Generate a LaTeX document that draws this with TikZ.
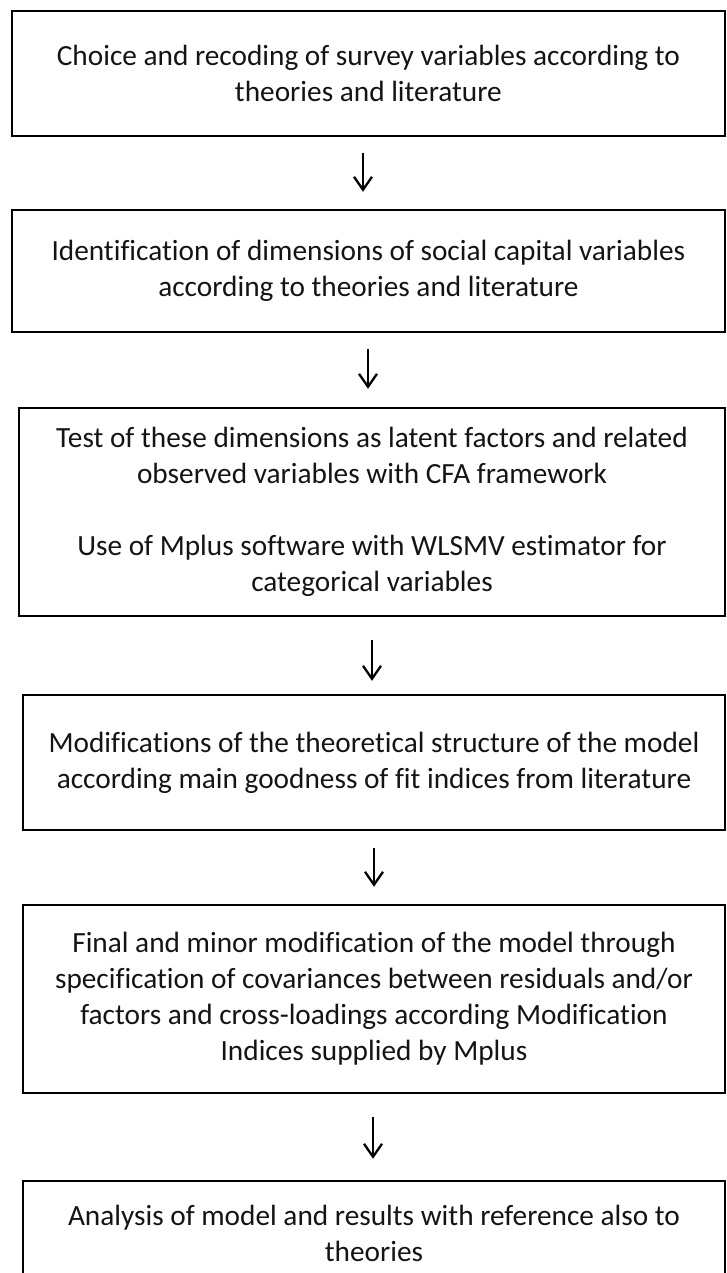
\documentclass[tikz,border=0pt]{standalone}
\usepackage{fontspec}
\setmainfont{Carlito}[Ligatures=NoCommon]
\usetikzlibrary{arrows.meta}
\tikzset{
  stepbox/.style={draw, line width=2.4pt, align=center, inner sep=0pt,
    font=\fontsize{29.3}{36}\selectfont, text=black!92},
  flowarrow/.style={line width=2.3pt, -{Straight Barb[length=13pt,width=18pt,line width=2.3pt]}}
}
\begin{document}
\begin{tikzpicture}[x=1pt,y=-1pt]
\useasboundingbox (0,0) rectangle (726,1273);
\clip (0,0) rectangle (726,1273);
\node[stepbox, minimum width=713.3pt, minimum height=125.3pt] (b1) at (368.4,73.4)
  {Choice and recoding of survey variables according to\\theories and literature};
\node[stepbox, minimum width=713.3pt, minimum height=122pt] (b2) at (368.4,271)
  {Identification of dimensions of social capital variables\\according to theories and literature};
\node[stepbox, minimum width=706pt, minimum height=208pt] (b3) at (372,512)
  {Test of these dimensions as latent factors and related\\observed variables with CFA framework\\[36pt]Use of Mplus software with WLSMV estimator for\\categorical variables};
\node[stepbox, minimum width=702pt, minimum height=135pt] (b4) at (374,762.5)
  {Modifications of the theoretical structure of the model\\according main goodness of fit indices from literature};
\node[stepbox, minimum width=702pt, minimum height=188pt] (b5) at (374,999)
  {Final and minor modification of the model through\\specification of covariances between residuals and/or\\factors and cross-loadings according Modification\\Indices supplied by Mplus};
\node[stepbox, minimum width=702pt, minimum height=104pt] (b6) at (374,1233)
  {Analysis of model and results with reference also to\\theories};
\draw[flowarrow] ([yshift=-16pt]b1.south -| 363,0) -- ([yshift=17pt]b2.north -| 363,0);
\draw[flowarrow] ([yshift=-16pt]b2.south -| 368,0) -- ([yshift=18pt]b3.north -| 368,0);
\draw[flowarrow] ([yshift=-23pt]b3.south -| 372,0) -- ([yshift=13pt]b4.north -| 372,0);
\draw[flowarrow] ([yshift=-17pt]b4.south -| 374,0) -- ([yshift=17pt]b5.north -| 374,0);
\draw[flowarrow] ([yshift=-23pt]b5.south -| 373,0) -- ([yshift=21pt]b6.north -| 373,0);
\end{tikzpicture}
\end{document}
